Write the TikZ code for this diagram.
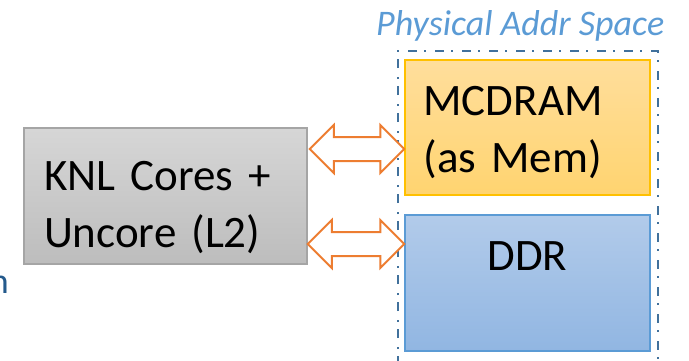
\documentclass[tikz,border=0pt]{standalone}
\usepackage{fontspec}
\setmainfont{Carlito}
\usepackage{tikz}
\usetikzlibrary{calc, positioning}
\definecolor{grisborde}{HTML}{A5A5A5}
\definecolor{naranja}{HTML}{ED7D31}
\definecolor{oro}{HTML}{FFC000}
\definecolor{azul}{HTML}{5B9BD5}
\definecolor{azuloscuro}{HTML}{41719C}
\definecolor{textoazul}{HTML}{245A8C}
\tikzstyle{bloque} = [rectangle, line width=1.5pt, inner ysep=0pt, font=\fontsize{45}{57}\selectfont]
\tikzstyle{cores} = [bloque, draw=grisborde, top color=black!16, bottom color=black!26, minimum width=283pt, minimum height=136pt, text width=243pt, inner xsep=20pt, align=left]
\tikzstyle{mcdram} = [bloque, draw=oro, top color={rgb,255:red,255;green,222;blue,156}, bottom color={rgb,255:red,255;green,212;blue,112}, minimum width=245pt, minimum height=135pt, text width=208pt, inner xsep=18.5pt, align=left]
\tikzstyle{ddr} = [bloque, draw=azul, top color={rgb,255:red,178;green,203;blue,234}, bottom color={rgb,255:red,145;green,182;blue,226}, minimum width=245pt, minimum height=136pt, align=center, text height=29pt, text depth=55pt]
\tikzstyle{flecha} = [draw=naranja, fill=white, line width=2pt, line join=miter]
\tikzstyle{espacio} = [draw=azuloscuro, line width=2pt, dash pattern=on 9pt off 7pt on 2pt off 9pt]
\tikzstyle{titulo} = [text=azul, font=\fontsize{36}{43}\selectfont\itshape, inner sep=0pt]
\newcommand{\dflecha}[2]{%
	\draw[flecha] (#1) -- ++(24,24) -- ++(0,-12) -- ($(#2)+(-24,12)$) -- ++(0,12) -- (#2)
		-- ++(-24,-24) -- ++(0,12) -- ($(#1)+(24,-12)$) -- ++(0,-12) -- cycle;}
\begin{document}
\begin{tikzpicture}[x=1pt, y=1pt]
	\useasboundingbox (0,0) rectangle (689,360);
	\node[cores] (knl) at (165.5,164) {\rule{0pt}{55pt}KNL Cores +\\Uncore (L2)\rule[-10pt]{0pt}{10pt}};
	\node[mcdram] (mem) at (527.5,232.5) {\rule{0pt}{42pt}MCDRAM\\(as Mem)\rule[-10pt]{0pt}{10pt}};
	\node[ddr] (ddr) at (527.5,77) {DDR};
	\draw[espacio] (398,-5) -- (398,309) -- (658,309) -- (658,-5);
	\node[titulo, anchor=base west] (pas) at (376,325) {Physical Addr Space};
	\node[anchor=base east, inner sep=0pt, text=textoazul, font=\fontsize{36}{43}\selectfont] (resto) at (9,67) {n};
	\coordinate (arr-a) at ($(knl.east)+(2,47)$);
	\coordinate (arr-b) at (mem.west |- arr-a);
	\coordinate (aba-a) at ($(knl.east)+(0,-48)$);
	\coordinate (aba-b) at (ddr.west |- aba-a);
	\dflecha{arr-a}{arr-b}
	\dflecha{aba-a}{aba-b}
\end{tikzpicture}
\end{document}
